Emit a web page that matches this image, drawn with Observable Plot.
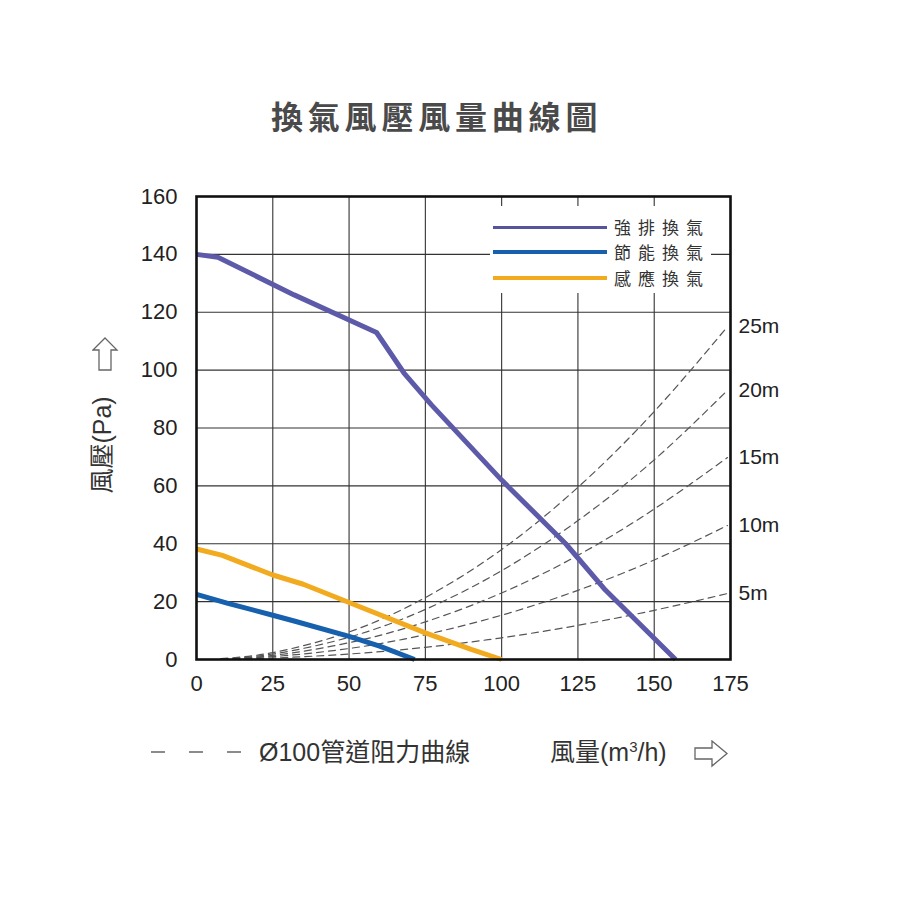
<!DOCTYPE html>
<html>
<head>
<meta charset="utf-8">
<script src="https://cdn.jsdelivr.net/npm/d3@7"></script>
<script src="https://cdn.jsdelivr.net/npm/@observablehq/plot@0.6"></script>
<style>
  body { margin: 0; background: #fff; }
  #wrap { position: relative; width: 900px; height: 900px; background: #fff; overflow: hidden;
          font-family: "Liberation Sans", "Noto Sans CJK TC", sans-serif; color: #333; }
  .abs { position: absolute; white-space: nowrap; }
  #title { left: 271px; top: 98px; font-size: 32px; line-height: 34px; letter-spacing: 4.8px;
           font-family: "Noto Sans CJK TC", sans-serif; font-weight: 700; color: #4a4a4a; }
  #legend { left: 490px; top: 206px; width: 221px; height: 87px; background: #fff; }
  .lg-line { position: absolute; left: 3px; width: 114px; }
  .lg-text { position: absolute; left: 124px; font-size: 17px; line-height: 18px; letter-spacing: 7px;
             font-family: "Noto Sans CJK TC", sans-serif; color: #333; }
  #ylabel { left: 100px; top: 445px; font-size: 25px; transform: translate(-50%, -50%) rotate(-90deg); color: #333; }
  #ductlabel { left: 259px; top: 738px; font-size: 25px; line-height: 28px; color: #333; }
  #xlabel { left: 550px; top: 738px; font-size: 25px; line-height: 28px; color: #333; }
  #xlabel sup { font-size: 15px; vertical-align: 9px; line-height: 0; }
</style>
</head>
<body>
<div id="wrap">
  <div id="chart" class="abs" style="left:0;top:0"></div>
  <div id="title" class="abs"></div>
  <div id="legend" class="abs"></div>
  <div id="ylabel" class="abs"></div>
  <svg class="abs" style="left:92px;top:337px" width="27" height="35">
    <polygon points="13,1 25,13 19,13 19,33 7,33 7,13 1,13" fill="#fff" stroke="#666" stroke-width="1.3"/>
  </svg>
  <svg class="abs" style="left:145px;top:744px" width="105" height="16">
    <line x1="6" y1="8" x2="100" y2="8" stroke="#666" stroke-width="1.5" stroke-dasharray="14,24"/>
  </svg>
  <div id="ductlabel" class="abs"></div>
  <div id="xlabel" class="abs"></div>
  <svg class="abs" style="left:694px;top:740px" width="36" height="28">
    <polygon points="1,8 18,8 18,1 33,13.5 18,26 18,19 1,19" fill="#fff" stroke="#666" stroke-width="1.3"/>
  </svg>
</div>
<script>
// ---- text ----
const titleText = "換氣風壓風量曲線圖";
const yLabelText = "風壓(Pa)";
const ductLabelText = "Ø100管道阻力曲線";
const xLabelMain = "風量(m";
const xLabelSup = "3";
const xLabelEnd = "/h)";

// ---- ticks ----
const xTicks = [0, 25, 50, 75, 100, 125, 150, 175];
const yTicks = [0, 20, 40, 60, 80, 100, 120, 140, 160];

// ---- fan curves (flow m3/h, pressure Pa) ----
const seriesNames = ["強排換氣", "節能換氣", "感應換氣"];
const seriesColors = ["#5d5aa9", "#1660ad", "#f2aa1f"];

const strongX = [0, 7, 32, 59, 68, 77, 100, 121, 134, 157];
const strongY = [140, 139, 126, 113, 99, 88, 62, 40, 24, 0];

const saveX = [0, 10, 25, 32, 50, 60, 71.5];
const saveY = [22.5, 19.5, 15.3, 13.3, 8, 4.6, 0];

const sensorX = [0, 8.5, 25, 35, 50, 75, 90, 100];
const sensorY = [38.2, 36, 29.2, 26, 19.7, 9.2, 3.5, 0];

// ---- duct resistance curves (Ø100 duct, by length) ----
const ductLengths = ["5m", "10m", "15m", "20m", "25m"];
const ductX = [8, 25, 50, 75, 100, 125, 150, 174];
const duct5m  = [0.1, 0.5, 1.9, 4.2, 7.5, 11.8, 17.0, 22.8];
const duct10m = [0.1, 1.0, 3.8, 8.6, 15.3, 23.9, 34.4, 46.3];
const duct15m = [0.2, 1.4, 5.8, 13.0, 23.0, 36.0, 52.0, 69.8];
const duct20m = [0.2, 1.9, 7.7, 17.3, 30.7, 48.0, 69.0, 93.0];
const duct25m = [0.3, 2.4, 9.5, 21.4, 38.0, 59.5, 85.7, 115.0];

// ---- build tables ----
const fanData = [
  ...strongX.map((x, i) => ({x, y: strongY[i], s: seriesNames[0]})),
  ...saveX.map((x, i) => ({x, y: saveY[i], s: seriesNames[1]})),
  ...sensorX.map((x, i) => ({x, y: sensorY[i], s: seriesNames[2]}))
];
const ductSeries = [duct5m, duct10m, duct15m, duct20m, duct25m];
const ductData = ductSeries.flatMap((ys, k) => ductX.map((x, i) => ({x, y: ys[i], L: ductLengths[k]})));
const ductEnds = ductSeries.map((ys, k) => ({x: ductX[ductX.length - 1], y: ys[ys.length - 1], L: ductLengths[k]}));

const font = '"Liberation Sans", "Noto Sans CJK TC", sans-serif';

const chart = Plot.plot({
  width: 900,
  height: 900,
  marginLeft: 196,
  marginRight: 170,
  marginTop: 196,
  marginBottom: 241,
  x: {domain: [0, 175]},
  y: {domain: [0, 160]},
  color: {domain: seriesNames, range: seriesColors},
  style: {fontFamily: font, background: "transparent", color: "#222"},
  marks: [
    Plot.gridX(xTicks, {stroke: "#333", strokeOpacity: 1, strokeWidth: 1.1}),
    Plot.gridY(yTicks, {stroke: "#333", strokeOpacity: 1, strokeWidth: 1.1}),
    Plot.axisX({ticks: xTicks, tickSize: 0, tickPadding: 16, fontSize: 22, label: null}),
    Plot.axisY({ticks: yTicks, tickSize: 0, tickPadding: 19, fontSize: 22, label: null}),
    Plot.line(ductData, {x: "x", y: "y", z: "L", curve: "natural", stroke: "#555", strokeWidth: 1.2, strokeDasharray: "7,5"}),
    Plot.line(fanData, {x: "x", y: "y", z: "s", stroke: "s", strokeWidth: 5, strokeLinejoin: "round", strokeLinecap: "butt"}),
    Plot.frame({stroke: "#111", strokeWidth: 2.6}),
    Plot.text(ductEnds, {y: "y", text: "L", frameAnchor: "right", textAnchor: "start", dx: 8, fontSize: 21, fill: "#222"})
  ]
});
document.getElementById("chart").appendChild(chart);

// ---- html text ----
document.getElementById("title").textContent = titleText;
document.getElementById("ylabel").textContent = yLabelText;
document.getElementById("ductlabel").textContent = ductLabelText;
const xl = document.getElementById("xlabel");
xl.append(xLabelMain);
const sup = document.createElement("sup"); sup.textContent = xLabelSup; xl.append(sup);
xl.append(xLabelEnd);

// legend
const legend = document.getElementById("legend");
const rowY = [21, 46, 72];
const lineW = [3, 4, 4];
const legendColors = ["#55549c", "#1660ad", "#f2aa1f"];
seriesNames.forEach((name, i) => {
  const ln = document.createElement("div");
  ln.className = "lg-line";
  ln.style.top = (rowY[i] - lineW[i] / 2) + "px";
  ln.style.height = lineW[i] + "px";
  ln.style.background = legendColors[i];
  legend.appendChild(ln);
  const tx = document.createElement("div");
  tx.className = "lg-text";
  tx.style.top = (rowY[i] - 9) + "px";
  tx.textContent = name;
  legend.appendChild(tx);
});
</script>
</body>
</html>
